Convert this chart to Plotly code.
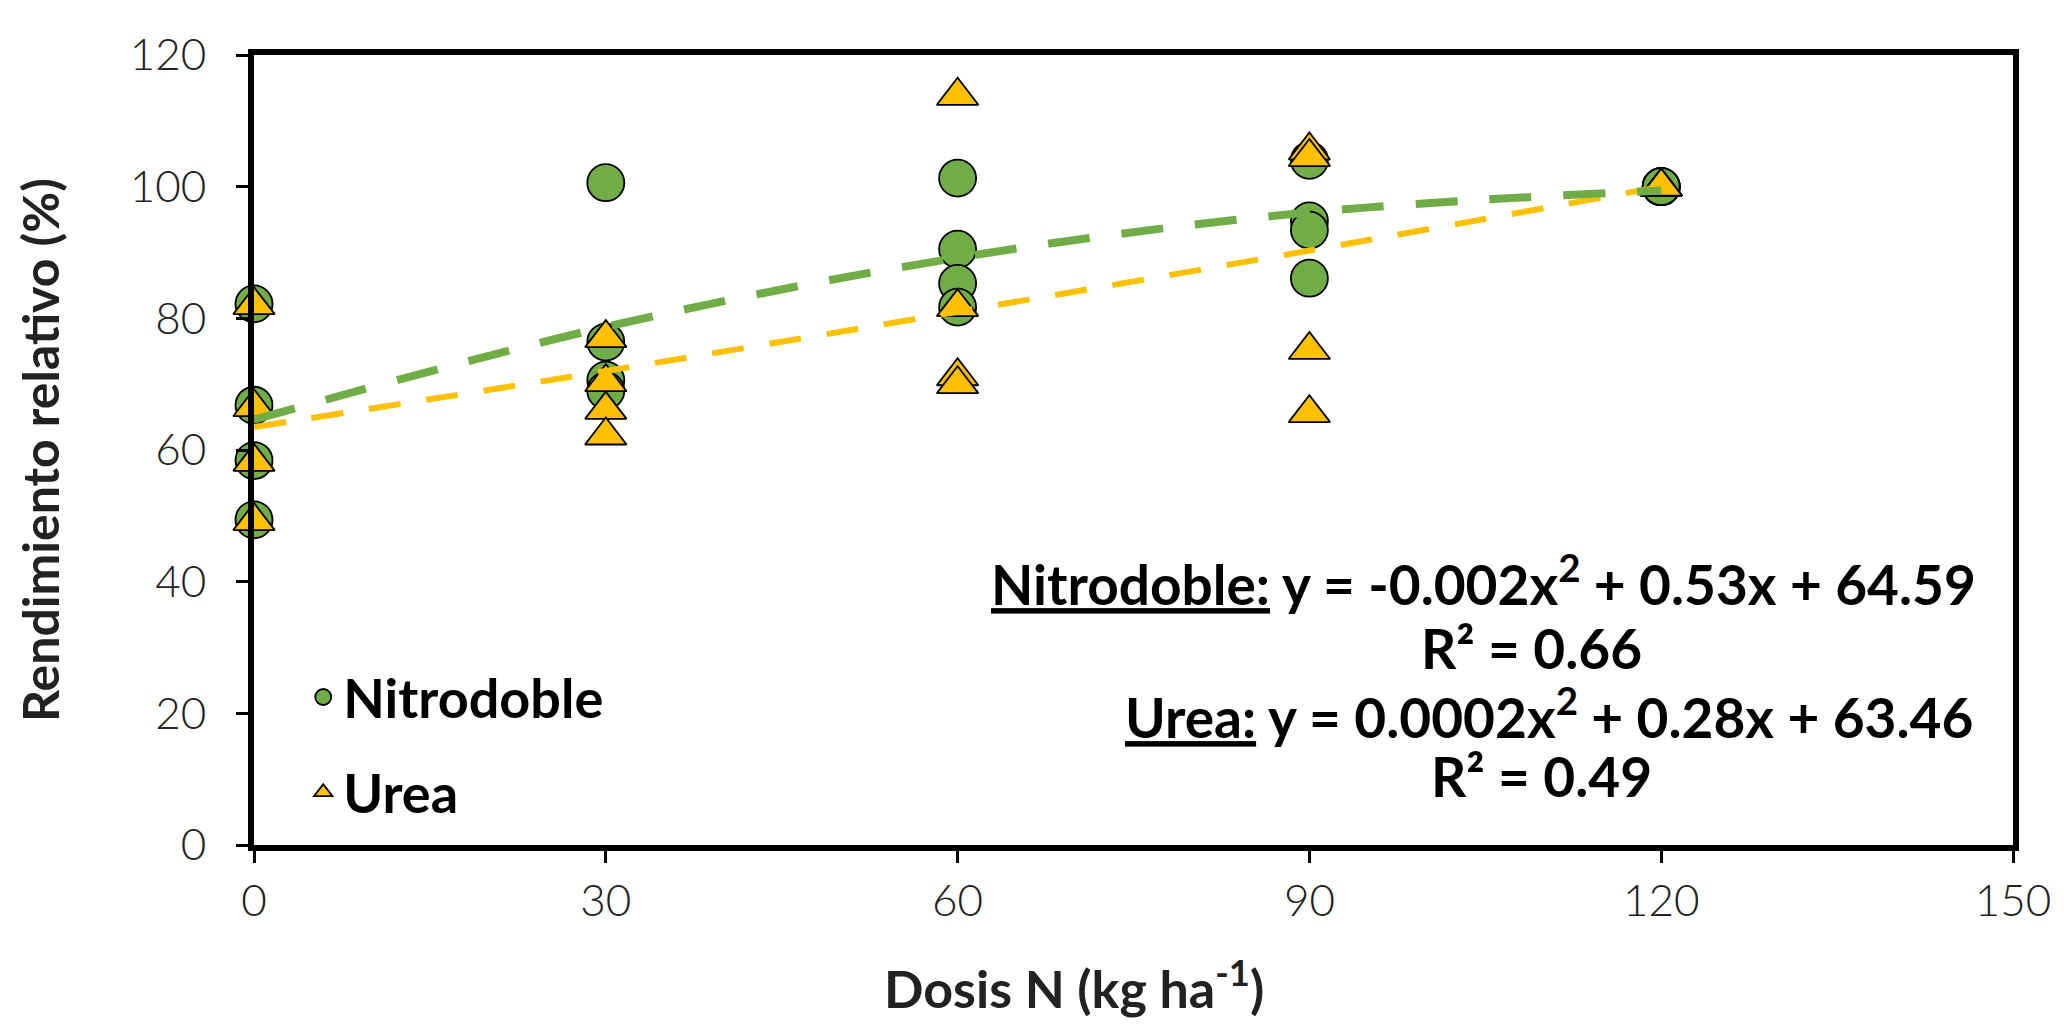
import plotly.graph_objects as go

# ---- data ----
dose_nitro = [0, 0, 0, 0, 30, 30, 30, 30, 60, 60, 60, 60, 90, 90, 90, 90, 120, 120, 120, 120]
yield_nitro = [82.2, 66.8, 58.4, 49.4,
               100.6, 76.4, 70.6, 69.0,
               101.3, 90.5, 85.3, 81.7,
               104.0, 94.8, 93.4, 86.1,
               100.0, 100.0, 100.0, 100.0]

dose_urea = [0, 0, 0, 0, 30, 30, 30, 30, 60, 60, 60, 60, 90, 90, 90, 90, 120, 120, 120, 120]
yield_urea = [82.0, 66.5, 58.2, 49.2,
              77.0, 70.3, 66.1, 62.2,
              113.8, 81.7, 71.2, 70.0,
              105.5, 104.5, 75.2, 65.6,
              100.0, 100.0, 100.0, 100.0]

# trendline values read at each dose
trend_x = [0, 30, 60, 90, 120]
trend_nitro = [64.6, 78.7, 89.2, 96.1, 99.4]
trend_urea = [63.5, 72.0, 81.0, 90.3, 100.0]

x_ticks = [0, 30, 60, 90, 120, 150]
y_ticks = [0, 20, 40, 60, 80, 100, 120]

eq_lines = [
    "<b><u>Nitrodoble:</u> y = -0.002x<sup>2</sup> + 0.53x + 64.59</b>",
    "<b>R² = 0.66</b>",
    "<b><u>Urea:</u> y = 0.0002x<sup>2</sup> + 0.28x + 63.46</b>",
    "<b>R² = 0.49</b>",
]

GREEN = "#70AD47"
GOLD = "#FFC000"
BOLD_FONT = "Lato, 'Open Sans', sans-serif"
TICK_FONT = "Lato, 'Open Sans', sans-serif"

fig = go.Figure()

fig.add_trace(go.Scatter(
    x=dose_nitro, y=yield_nitro, mode="markers", name="Nitrodoble",
    legendgroup="a", cliponaxis=False,
    marker=dict(symbol="circle", size=37, color=GREEN,
                line=dict(color="#000000", width=1.8)),
))
fig.add_trace(go.Scatter(
    x=dose_urea, y=yield_urea, mode="markers", name="Urea",
    legendgroup="b", cliponaxis=False,
    marker=dict(symbol="triangle-up", size=36, color=GOLD,
                line=dict(color="#000000", width=1.8)),
))
fig.add_trace(go.Scatter(
    x=trend_x, y=trend_urea, mode="lines", showlegend=False,
    line=dict(color=GOLD, width=6, dash="32px,26px", shape="spline"),
    hoverinfo="skip",
))
fig.add_trace(go.Scatter(
    x=trend_x, y=trend_nitro, mode="lines", showlegend=False,
    line=dict(color=GREEN, width=8, dash="42px,32px", shape="spline"),
    hoverinfo="skip",
))

eq_pos = [(0.699, 0.335), (0.726, 0.250), (0.736, 0.167), (0.732, 0.087)]
for txt, (px, py) in zip(eq_lines, eq_pos):
    fig.add_annotation(
        text=txt, x=px, y=py, xref="paper", yref="paper",
        xanchor="center", yanchor="middle", showarrow=False,
        font=dict(family=BOLD_FONT, size=55, color="#000000"),
    )

# x-axis title (placed slightly left of centre, as in the reference)
fig.add_annotation(
    text="<b>Dosis N (kg ha<sup>-1</sup>)</b>", x=0.466, y=-0.176,
    xref="paper", yref="paper", xanchor="center", yanchor="middle",
    showarrow=False,
    font=dict(family=BOLD_FONT, size=52, color="#222222"),
)

fig.update_layout(
    width=2064, height=1030,
    margin=dict(l=254, r=51, t=55, b=185),
    paper_bgcolor="white", plot_bgcolor="white",
    showlegend=True,
    legend=dict(
        x=0.028, y=0.24, xanchor="left", yanchor="top",
        bgcolor="rgba(0,0,0,0)",
        font=dict(family=BOLD_FONT, size=54, color="#000000", weight="bold"),
        traceorder="grouped", tracegroupgap=22,
        itemsizing="trace",
    ),
)

fig.update_xaxes(
    range=[0, 150], tickvals=x_ticks, ticktext=[str(v) for v in x_ticks],
    showgrid=False, zeroline=False,
    showline=True, linecolor="#000000", linewidth=6, mirror=True,
    ticks="outside", ticklen=12, tickwidth=3, tickcolor="#000000",
    tickfont=dict(family=TICK_FONT, size=44, color="#222222", weight=300),
)
fig.update_yaxes(
    range=[0, 120], tickvals=y_ticks, ticktext=[str(v) for v in y_ticks],
    showgrid=False, zeroline=False,
    showline=True, linecolor="#000000", linewidth=6, mirror=True,
    ticks="outside", ticklen=12, tickwidth=3, tickcolor="#000000",
    ticklabelstandoff=21,
    tickfont=dict(family=TICK_FONT, size=44, color="#222222", weight=300),
    title=dict(text="<b>Rendimiento relativo (%)</b>",
               font=dict(family=BOLD_FONT, size=50, color="#222222"),
               standoff=56),
)

fig.write_html("out.html")
